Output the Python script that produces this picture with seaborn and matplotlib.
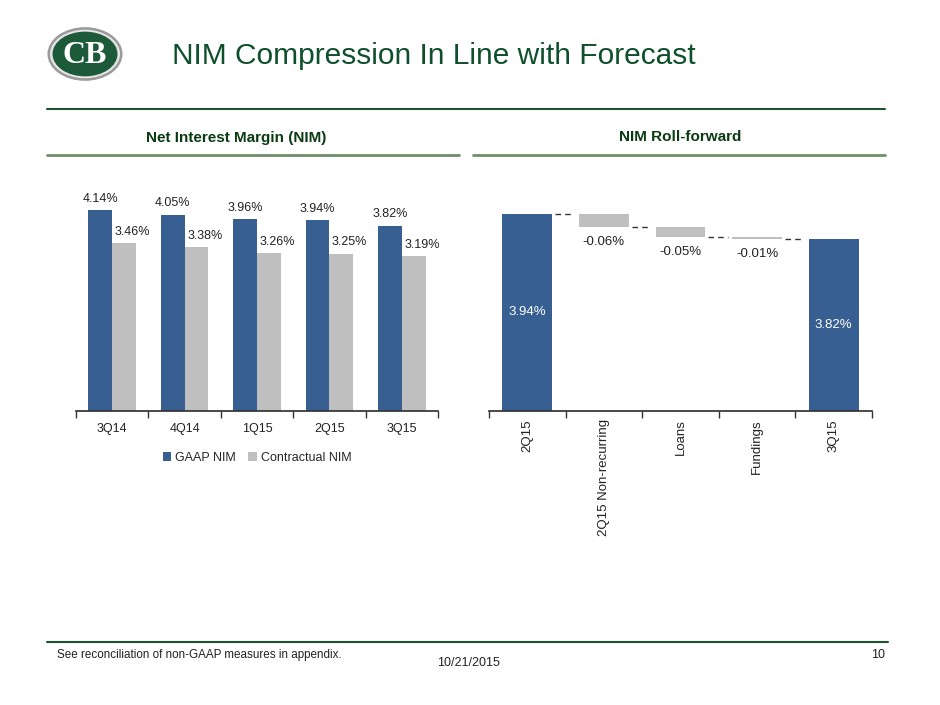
import matplotlib
matplotlib.use('Agg')
import matplotlib.pyplot as plt
from matplotlib.patches import Ellipse
import seaborn as sns
import pandas as pd
import numpy as np

# --- data ---------------------------------------------------------------
quarters = ["3Q14", "4Q14", "1Q15", "2Q15", "3Q15"]
gaap_nim = [4.14, 4.05, 3.96, 3.94, 3.82]
contractual_nim = [3.46, 3.38, 3.26, 3.25, 3.19]
series_names = ["GAAP NIM", "Contractual NIM"]

roll_labels = ["2Q15", "2Q15 Non-recurring", "Loans", "Fundings", "3Q15"]
roll_start = 3.94
roll_changes = [-0.06, -0.05, -0.01]
roll_end = 3.82

BLUE = "#375F91"
GRAY = "#BFBFBF"
TITLE_GREEN = "#0E4F2C"
SUB_GREEN = "#0B3B12"
LINE_DARK = "#1E5234"
LINE_LIGHT = "#6E8F6A"

sns.set_theme(style="white")
plt.rcParams['font.family'] = ['Liberation Sans', 'DejaVu Sans']

fig = plt.figure(figsize=(9.4, 7.05), dpi=100)
W, H = 940, 705


def fx(px):
    return px / W


def fy(py):
    return 1 - py / H


# --- header / frame -----------------------------------------------------
fig.text(fx(172), fy(56), "NIM Compression In Line with Forecast", fontsize=21.5,
         color=TITLE_GREEN, va="center", ha="left")
fig.add_artist(plt.Line2D([fx(47), fx(885)], [fy(109), fy(109)], color=LINE_DARK, lw=1.5))
fig.add_artist(plt.Line2D([fx(47), fx(459)], [fy(155), fy(155)], color=LINE_LIGHT, lw=2))
fig.add_artist(plt.Line2D([fx(473), fx(885)], [fy(155), fy(155)], color=LINE_LIGHT, lw=2))
fig.text(fx(236), fy(138), "Net Interest Margin (NIM)", fontsize=11, fontweight="bold",
         color=SUB_GREEN, ha="center", va="center")
fig.text(fx(680), fy(137), "NIM Roll-forward", fontsize=11, fontweight="bold",
         color=SUB_GREEN, ha="center", va="center")

# logo
logo = fig.add_axes([fx(46.5), fy(83.3), fx(77), 58.6 / H])
logo.set_xlim(-1.15, 1.15)
logo.set_ylim(-1.15, 1.15)
logo.axis("off")
logo.add_patch(Ellipse((0, 0), 2.2, 2.05, color="#9A9A9A"))
logo.add_patch(Ellipse((0, 0), 2.05, 1.85, color="#E6E6E6"))
logo.add_patch(Ellipse((0, 0), 1.9, 1.7, color="#1D5A3A"))
logo.text(-0.02, -0.05, "CB", fontsize=23, fontweight="bold", color="white",
          ha="center", va="center", family=["Liberation Serif", "DejaVu Serif"])

# footer
fig.add_artist(plt.Line2D([fx(47), fx(888)], [fy(642), fy(642)], color=LINE_DARK, lw=1.5))
fig.text(fx(57), fy(655), "See reconciliation of non-GAAP measures in appendix.",
         fontsize=8.4, ha="left", va="center", color="#222222")
fig.text(fx(468), fy(663), "10/21/2015", fontsize=9, ha="center", va="center", color="#222222")
fig.text(fx(885), fy(655), "10", fontsize=9, ha="right", va="center", color="#222222")

# --- left chart: NIM by quarter -----------------------------------------
df = pd.DataFrame({
    "quarter": quarters * 2,
    "nim": gaap_nim + contractual_nim,
    "series": [series_names[0]] * len(quarters) + [series_names[1]] * len(quarters),
})
ax1 = fig.add_axes([fx(76), fy(411), fx(438 - 76), (411 - 193) / H])
sns.barplot(data=df, x="quarter", y="nim", hue="series", order=quarters,
            hue_order=series_names, palette={series_names[0]: BLUE, series_names[1]: GRAY},
            width=0.66, gap=0, saturation=1, linewidth=0, ax=ax1)
ax1.set_ylim(0, 4.5)
ax1.set_xlim(-0.5, len(quarters) - 0.5)
ax1.set_xlabel("")
ax1.set_ylabel("")
ax1.set_yticks([])
for s in ["top", "right", "left"]:
    ax1.spines[s].set_visible(False)
ax1.spines["bottom"].set_color("#333333")
ax1.set_xticks(np.arange(-0.5, len(quarters)), minor=True)
ax1.tick_params(axis="x", which="major", length=0, labelsize=9, pad=9, colors="#222222")
ax1.tick_params(axis="x", which="minor", length=5, width=1, direction="out", color="#333333", bottom=True)

for i, cont in enumerate(ax1.containers):
    dx = 0 if i == 0 else 6
    for bar, v in zip(cont, [gaap_nim, contractual_nim][i]):
        ax1.annotate(f"{v:.2f}%", (bar.get_x() + bar.get_width() / 2, bar.get_height()),
                     xytext=(dx, 4), textcoords="offset points", ha="center", va="bottom",
                     fontsize=9, color="#222222")

handles, labels = ax1.get_legend_handles_labels()
ax1.legend(handles, labels, loc="upper center", bbox_to_anchor=(0.5, -0.135), ncol=2,
           frameon=False, fontsize=9, handlelength=0.7, handleheight=0.7,
           handletextpad=0.3, columnspacing=1.0)

# --- right chart: NIM roll-forward (waterfall) --------------------------
levels = [roll_start] + list(roll_start + np.cumsum(roll_changes))
bottoms = [0] + [levels[i] + roll_changes[i] for i in range(len(roll_changes))] + [0]
heights = [roll_start] + [abs(c) for c in roll_changes] + [roll_end]
colors = [BLUE] + [GRAY] * len(roll_changes) + [BLUE]

ax2 = fig.add_axes([fx(489), fy(410.7), fx(872 - 489), 209.2 / H])
sns.barplot(x=roll_labels, y=heights, bottom=bottoms, order=roll_labels, width=0.65,
            color=GRAY, saturation=1, linewidth=0, ax=ax2)
for patch, c in zip(ax2.patches, colors):
    patch.set_facecolor(c)
    patch.set_edgecolor(c)
ax2.set_ylim(3.0, 4.0)
ax2.set_xlim(-0.5, len(roll_labels) - 0.5)
ax2.set_xlabel("")
ax2.set_ylabel("")
ax2.set_yticks([])
for s in ["top", "right", "left"]:
    ax2.spines[s].set_visible(False)
ax2.spines["bottom"].set_color("#333333")
ax2.set_xticks(np.arange(-0.5, len(roll_labels)), minor=True)
ax2.tick_params(axis="x", which="major", length=0, labelsize=9.5, pad=6, colors="#222222",
                labelrotation=90)
ax2.tick_params(axis="x", which="minor", length=5, width=1, direction="out", color="#333333", bottom=True)

# connectors
bars = list(ax2.patches)
ends = [roll_start] + levels[1:]
for i in range(len(bars) - 1):
    x0 = bars[i].get_x() + bars[i].get_width() + 0.04
    x1 = bars[i + 1].get_x() - 0.06
    ax2.plot([x0, x1], [ends[i], ends[i]], color="#333333", lw=1, ls=(0, (4, 3)))

# labels
for i, bar in enumerate(bars):
    xc = bar.get_x() + bar.get_width() / 2
    if i in (0, len(bars) - 1):
        v = roll_start if i == 0 else roll_end
        ax2.text(xc, (3.0 + v) / 2, f"{v:.2f}%", ha="center", va="center",
                 color="white", fontsize=9.5)
    else:
        ax2.annotate(f"{roll_changes[i - 1]:.2f}%", (xc, bar.get_y()), xytext=(0, -11),
                     textcoords="offset points", ha="center", va="center",
                     fontsize=9.5, color="#222222")

fig.savefig("out.png", dpi=100)
plt.close(fig)
